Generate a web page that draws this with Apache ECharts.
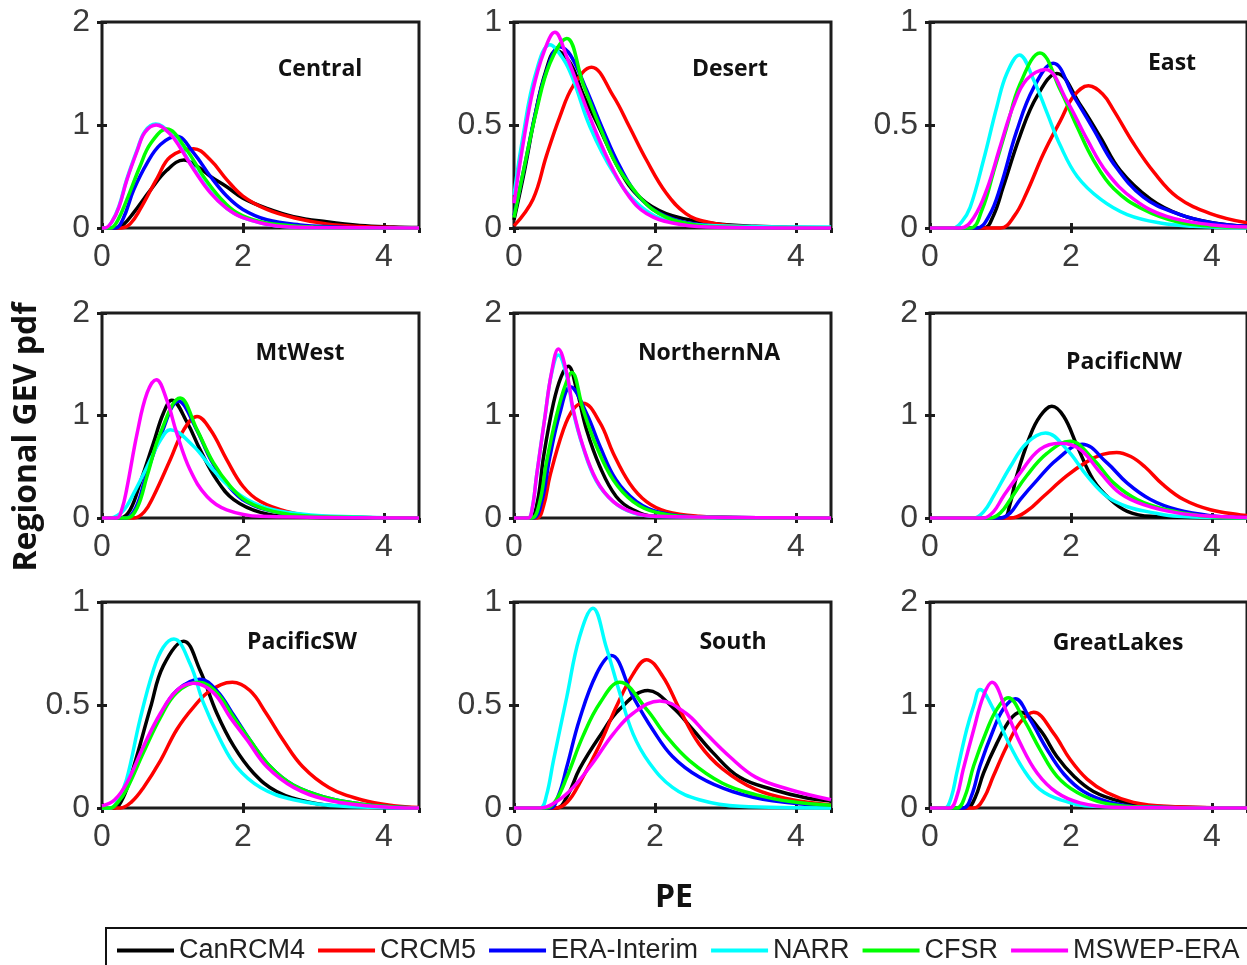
<!DOCTYPE html>
<html>
<head>
<meta charset="utf-8">
<title>Regional GEV pdf of PE</title>
<script src="https://cdn.jsdelivr.net/npm/echarts@6/dist/echarts.min.js"></script>
<style>
  html, body { margin: 0; padding: 0; background: #fff; }
  #chart { width: 1247px; height: 965px; }
</style>
</head>
<body>
<div id="chart"></div>
<script>
// ---- data ---------------------------------------------------------------
const REGIONS = ['Central', 'Desert', 'East', 'MtWest', 'NorthernNA', 'PacificNW', 'PacificSW', 'South', 'GreatLakes'];
const MODELS = ['CanRCM4', 'CRCM5', 'ERA-Interim', 'NARR', 'CFSR', 'MSWEP-ERA'];
const Y_MAX = [2, 1, 1, 2, 2, 2, 1, 1, 2];
const X_MIN = 0, X_MAX = 4.5, X_STEP = 2;

// each region: one [PE, pdf] curve per model, in MODELS order
const central = [
  [[0,0],[0.2,0],[0.3,0.03],[0.45,0.15],[0.69,0.37],[0.92,0.56],[1.16,0.66],[1.35,0.6],[1.54,0.5],[1.77,0.4],[2.0,0.29],[2.34,0.19],[2.72,0.11],[3.19,0.06],[3.66,0.025],[4.14,0.01],[4.5,0.004]],
  [[0,0],[0.28,0],[0.4,0.04],[0.54,0.18],[0.78,0.48],[0.97,0.69],[1.3,0.77],[1.54,0.66],[1.77,0.47],[2.0,0.31],[2.34,0.18],[2.72,0.1],[3.19,0.04],[3.66,0.015],[4.14,0.005],[4.5,0.002]],
  [[0,0],[0.19,0],[0.3,0.09],[0.45,0.37],[0.64,0.63],[0.83,0.81],[1.06,0.89],[1.3,0.73],[1.54,0.5],[1.77,0.31],[2.0,0.18],[2.34,0.08],[2.81,0.03],[3.3,0.01],[3.66,0.003],[4.5,0]],
  [[0,0],[0.05,0],[0.14,0.06],[0.24,0.21],[0.35,0.47],[0.5,0.76],[0.61,0.94],[0.76,1.01],[0.97,0.92],[1.11,0.79],[1.3,0.58],[1.54,0.35],[1.77,0.19],[2.0,0.1],[2.48,0.02],[3.0,0.005],[4.5,0]],
  [[0,0],[0.12,0],[0.22,0.07],[0.35,0.27],[0.54,0.6],[0.69,0.82],[0.92,0.96],[1.2,0.76],[1.44,0.5],[1.68,0.29],[1.91,0.15],[2.25,0.06],[2.72,0.02],[3.4,0.003],[4.5,0]],
  [[0,0],[0.04,0],[0.14,0.06],[0.24,0.2],[0.35,0.46],[0.5,0.75],[0.61,0.93],[0.77,1.0],[0.97,0.91],[1.11,0.78],[1.3,0.57],[1.54,0.34],[1.77,0.19],[2.0,0.1],[2.48,0.02],[3.0,0.005],[4.5,0]]
];
const desert = [
  [[0,0.04],[0.15,0.28],[0.3,0.55],[0.45,0.76],[0.6,0.86],[0.8,0.8],[0.98,0.65],[1.22,0.48],[1.5,0.28],[1.78,0.15],[2.16,0.07],[2.73,0.027],[3.43,0.008],[4.5,0.001]],
  [[0,0.01],[0.27,0.14],[0.46,0.35],[0.65,0.54],[0.84,0.69],[1.1,0.78],[1.41,0.64],[1.64,0.49],[1.88,0.33],[2.16,0.17],[2.44,0.07],[2.73,0.03],[3.2,0.008],[4.5,0]],
  [[0,0.06],[0.15,0.3],[0.3,0.55],[0.45,0.75],[0.65,0.88],[0.8,0.84],[1.03,0.67],[1.26,0.48],[1.5,0.3],[1.78,0.15],[2.16,0.056],[2.73,0.013],[3.5,0.002],[4.5,0]],
  [[0,0.16],[0.13,0.45],[0.3,0.74],[0.51,0.89],[0.7,0.82],[0.84,0.72],[1.08,0.49],[1.41,0.27],[1.78,0.11],[2.25,0.03],[3.0,0.01],[4.5,0.005]],
  [[0,0.05],[0.13,0.27],[0.32,0.57],[0.51,0.8],[0.75,0.92],[0.98,0.7],[1.22,0.49],[1.45,0.31],[1.69,0.19],[1.97,0.09],[2.35,0.03],[2.96,0.005],[4.5,0]],
  [[0,0.12],[0.13,0.41],[0.27,0.67],[0.42,0.85],[0.58,0.95],[0.75,0.83],[0.93,0.67],[1.17,0.46],[1.41,0.28],[1.64,0.15],[1.88,0.07],[2.25,0.024],[2.73,0.005],[4.5,0]]
];
const east = [
  [[0,0],[0.76,0],[0.9,0.06],[1.04,0.2],[1.28,0.45],[1.52,0.64],[1.8,0.75],[2.13,0.6],[2.42,0.44],[2.7,0.28],[3.13,0.14],[3.55,0.065],[4.03,0.024],[4.5,0.008]],
  [[0,0],[1.0,0],[1.2,0.06],[1.37,0.17],[1.61,0.36],[1.85,0.52],[2.04,0.64],[2.25,0.69],[2.45,0.65],[2.61,0.57],[2.89,0.41],[3.18,0.27],[3.51,0.15],[3.98,0.07],[4.5,0.025]],
  [[0,0],[0.66,0],[0.84,0.06],[1.0,0.2],[1.23,0.47],[1.47,0.68],[1.75,0.8],[2.04,0.64],[2.32,0.48],[2.61,0.31],[3.03,0.15],[3.51,0.07],[3.98,0.027],[4.5,0.008]],
  [[0,0],[0.33,0],[0.45,0.03],[0.57,0.1],[0.76,0.33],[0.95,0.59],[1.09,0.75],[1.27,0.84],[1.47,0.72],[1.66,0.56],[1.85,0.4],[2.09,0.25],[2.42,0.14],[2.8,0.065],[3.27,0.024],[3.74,0.008],[4.5,0]],
  [[0,0],[0.57,0],[0.74,0.09],[0.9,0.27],[1.09,0.49],[1.28,0.7],[1.56,0.85],[1.85,0.67],[2.09,0.49],[2.32,0.33],[2.61,0.19],[3.03,0.09],[3.51,0.03],[3.98,0.01],[4.5,0.003]],
  [[0,0],[0.43,0],[0.62,0.05],[0.81,0.19],[1.0,0.4],[1.18,0.59],[1.37,0.72],[1.64,0.77],[1.94,0.62],[2.23,0.43],[2.51,0.27],[2.89,0.14],[3.36,0.056],[3.98,0.016],[4.5,0.005]]
];
const mtWest = [
  [[0,0],[0.26,0],[0.4,0.08],[0.54,0.34],[0.73,0.73],[0.87,1.02],[0.99,1.15],[1.21,0.93],[1.39,0.67],[1.63,0.37],[1.87,0.18],[2.25,0.055],[2.72,0.01],[4.5,0]],
  [[0,0],[0.45,0],[0.6,0.06],[0.73,0.21],[0.97,0.57],[1.16,0.86],[1.35,0.99],[1.54,0.86],[1.77,0.57],[2.0,0.31],[2.25,0.16],[2.62,0.065],[3.1,0.016],[4.5,0]],
  [[0,0],[0.33,0],[0.48,0.1],[0.62,0.4],[0.83,0.8],[1.09,1.14],[1.33,0.88],[1.56,0.55],[1.8,0.31],[2.04,0.16],[2.43,0.065],[2.96,0.016],[4.5,0]],
  [[0,0],[0.12,0],[0.3,0.07],[0.45,0.24],[0.64,0.5],[0.83,0.76],[0.97,0.86],[1.3,0.7],[1.54,0.5],[1.77,0.33],[2.06,0.18],[2.43,0.08],[2.96,0.03],[3.66,0.01],[4.09,0.002],[4.5,0]],
  [[0,0],[0.35,0],[0.5,0.1],[0.64,0.41],[0.83,0.83],[1.11,1.17],[1.35,0.86],[1.58,0.54],[1.82,0.31],[2.06,0.16],[2.43,0.065],[2.96,0.016],[4.5,0]],
  [[0,0],[0.21,0],[0.28,0.08],[0.35,0.28],[0.5,0.83],[0.64,1.22],[0.77,1.35],[0.92,1.15],[1.06,0.83],[1.25,0.47],[1.49,0.21],[1.77,0.08],[2.25,0.016],[4.5,0]]
];
const northernNA = [
  [[0,0],[0.23,0],[0.33,0.15],[0.42,0.6],[0.56,1.12],[0.67,1.38],[0.77,1.48],[0.89,1.25],[1.03,0.86],[1.22,0.5],[1.45,0.21],[1.69,0.08],[2.02,0.016],[4.5,0]],
  [[0,0],[0.32,0],[0.42,0.12],[0.51,0.41],[0.7,0.86],[0.84,1.06],[0.98,1.12],[1.22,0.93],[1.41,0.63],[1.64,0.34],[1.88,0.16],[2.16,0.065],[2.63,0.016],[3.2,0.003],[4.5,0]],
  [[0,0],[0.27,0],[0.39,0.15],[0.51,0.6],[0.65,1.02],[0.8,1.28],[1.03,1.02],[1.22,0.7],[1.45,0.37],[1.74,0.16],[2.07,0.055],[2.63,0.01],[4.5,0]],
  [[0,0],[0.2,0],[0.26,0.1],[0.32,0.41],[0.44,0.99],[0.53,1.4],[0.63,1.59],[0.75,1.38],[0.84,1.04],[0.98,0.69],[1.17,0.36],[1.41,0.16],[1.69,0.05],[2.02,0.015],[4.5,0]],
  [[0,0],[0.25,0],[0.36,0.14],[0.46,0.54],[0.6,0.99],[0.72,1.28],[0.82,1.42],[0.98,1.06],[1.17,0.7],[1.41,0.37],[1.69,0.16],[2.02,0.055],[2.63,0.01],[4.5,0]],
  [[0,0],[0.2,0],[0.26,0.1],[0.32,0.41],[0.44,0.99],[0.53,1.41],[0.63,1.65],[0.75,1.41],[0.84,1.06],[0.98,0.7],[1.17,0.37],[1.41,0.16],[1.69,0.055],[2.02,0.016],[4.5,0]]
];
const pacificNW = [
  [[0,0],[1.04,0],[1.13,0.12],[1.23,0.41],[1.42,0.8],[1.56,0.99],[1.73,1.09],[1.9,0.99],[2.09,0.7],[2.32,0.37],[2.56,0.18],[2.8,0.065],[3.13,0.016],[4.5,0]],
  [[0,0],[1.14,0],[1.38,0.07],[1.61,0.21],[1.94,0.41],[2.23,0.55],[2.45,0.62],[2.65,0.64],[2.85,0.6],[3.05,0.5],[3.3,0.33],[3.6,0.18],[3.98,0.08],[4.41,0.03],[4.5,0.025]],
  [[0,0],[1.0,0],[1.14,0.05],[1.28,0.18],[1.52,0.37],[1.8,0.57],[2.16,0.72],[2.51,0.54],[2.8,0.34],[3.13,0.18],[3.51,0.08],[3.98,0.023],[4.5,0.004]],
  [[0,0],[0.62,0],[0.76,0.06],[0.9,0.21],[1.14,0.5],[1.37,0.73],[1.64,0.83],[1.94,0.67],[2.23,0.41],[2.51,0.21],[2.8,0.11],[3.18,0.05],[3.51,0.016],[4.5,0]],
  [[0,0],[0.85,0],[1.0,0.05],[1.14,0.18],[1.37,0.41],[1.66,0.63],[1.99,0.75],[2.32,0.57],[2.61,0.34],[2.94,0.18],[3.36,0.08],[3.84,0.023],[4.5,0.002]],
  [[0,0],[0.76,0],[0.9,0.06],[1.04,0.21],[1.28,0.44],[1.56,0.67],[1.85,0.73],[2.13,0.67],[2.42,0.44],[2.7,0.24],[3.03,0.13],[3.51,0.05],[4.03,0.016],[4.5,0.005]]
];
const pacificSW = [
  [[0,0],[0.17,0],[0.3,0.05],[0.45,0.2],[0.69,0.49],[0.87,0.69],[1.16,0.81],[1.39,0.67],[1.63,0.46],[1.87,0.3],[2.15,0.17],[2.48,0.08],[2.96,0.027],[3.43,0.008],[4.5,0]],
  [[0,0],[0.26,0],[0.42,0.03],[0.59,0.1],[0.83,0.23],[1.06,0.38],[1.3,0.49],[1.54,0.57],[1.85,0.61],[2.1,0.57],[2.33,0.46],[2.57,0.33],[2.85,0.2],[3.22,0.1],[3.68,0.04],[4.14,0.011],[4.5,0.003]],
  [[0,0],[0.12,0],[0.23,0.03],[0.35,0.1],[0.59,0.28],[0.83,0.45],[1.06,0.57],[1.39,0.625],[1.63,0.57],[1.87,0.45],[2.1,0.33],[2.39,0.2],[2.72,0.11],[3.19,0.05],[3.66,0.02],[4.14,0.005],[4.5,0]],
  [[0,0],[0.12,0],[0.23,0.04],[0.35,0.14],[0.54,0.43],[0.73,0.67],[0.87,0.78],[1.02,0.82],[1.25,0.7],[1.44,0.51],[1.68,0.33],[1.91,0.2],[2.25,0.1],[2.72,0.04],[3.43,0.008],[4.5,0]],
  [[0,0],[0.12,0],[0.23,0.03],[0.35,0.09],[0.59,0.27],[0.83,0.44],[1.06,0.56],[1.37,0.61],[1.63,0.56],[1.87,0.44],[2.1,0.33],[2.39,0.2],[2.72,0.11],[3.19,0.05],[3.66,0.02],[4.14,0.005],[4.5,0]],
  [[0,0.01],[0.18,0.04],[0.35,0.12],[0.59,0.3],[0.83,0.46],[1.06,0.57],[1.3,0.605],[1.58,0.56],[1.82,0.44],[2.06,0.33],[2.34,0.2],[2.72,0.1],[3.19,0.04],[3.66,0.015],[4.14,0.003],[4.5,0]]
];
const south = [
  [[0,0],[0.6,0],[0.76,0.06],[0.93,0.19],[1.22,0.35],[1.5,0.48],[1.9,0.57],[2.25,0.49],[2.54,0.38],[2.82,0.27],[3.2,0.15],[3.67,0.09],[4.14,0.05],[4.5,0.034]],
  [[0,0],[0.6,0],[0.76,0.03],[0.93,0.12],[1.22,0.31],[1.45,0.49],[1.69,0.65],[1.88,0.72],[2.11,0.64],[2.35,0.48],[2.63,0.31],[2.96,0.19],[3.43,0.09],[3.95,0.04],[4.5,0.015]],
  [[0,0],[0.51,0],[0.63,0.06],[0.75,0.2],[0.93,0.43],[1.17,0.65],[1.38,0.74],[1.69,0.54],[1.97,0.38],[2.25,0.25],[2.63,0.15],[3.1,0.08],[3.67,0.035],[4.5,0.01]],
  [[0,0],[0.37,0],[0.46,0.06],[0.56,0.23],[0.75,0.54],[0.93,0.83],[1.12,0.97],[1.31,0.78],[1.5,0.56],[1.69,0.36],[1.92,0.22],[2.25,0.1],[2.63,0.04],[3.2,0.008],[4.5,0]],
  [[0,0],[0.46,0],[0.6,0.04],[0.75,0.15],[0.98,0.35],[1.22,0.51],[1.5,0.61],[1.88,0.48],[2.16,0.35],[2.49,0.23],[2.96,0.12],[3.43,0.065],[3.95,0.03],[4.5,0.013]],
  [[0,0],[0.37,0],[0.6,0.03],[0.84,0.1],[1.12,0.22],[1.41,0.36],[1.69,0.46],[2.07,0.52],[2.44,0.46],[2.73,0.36],[3.06,0.25],[3.43,0.15],[3.91,0.09],[4.5,0.04]]
];
const greatLakes = [
  [[0,0],[0.52,0],[0.64,0.1],[0.76,0.34],[0.95,0.63],[1.14,0.86],[1.28,0.93],[1.56,0.76],[1.8,0.5],[2.04,0.31],[2.32,0.16],[2.7,0.065],[3.18,0.016],[4.5,0]],
  [[0,0],[0.62,0],[0.76,0.09],[0.9,0.31],[1.09,0.6],[1.28,0.83],[1.47,0.93],[1.75,0.73],[1.99,0.47],[2.23,0.28],[2.51,0.15],[2.89,0.055],[3.36,0.016],[4.5,0]],
  [[0,0],[0.47,0],[0.59,0.12],[0.71,0.41],[0.9,0.76],[1.04,0.96],[1.21,1.06],[1.42,0.86],[1.66,0.57],[1.9,0.33],[2.18,0.16],[2.56,0.055],[3.03,0.01],[4.5,0]],
  [[0,0],[0.21,0],[0.3,0.1],[0.38,0.34],[0.52,0.76],[0.62,0.99],[0.71,1.15],[0.9,0.96],[1.09,0.67],[1.33,0.37],[1.56,0.18],[1.85,0.08],[2.32,0.016],[4.5,0]],
  [[0,0],[0.38,0],[0.5,0.12],[0.62,0.41],[0.81,0.76],[0.95,0.96],[1.11,1.07],[1.33,0.86],[1.56,0.57],[1.8,0.31],[2.09,0.15],[2.46,0.05],[3.03,0.008],[4.5,0]],
  [[0,0],[0.28,0],[0.38,0.11],[0.47,0.37],[0.62,0.76],[0.76,1.09],[0.88,1.22],[1.09,0.93],[1.28,0.63],[1.52,0.34],[1.8,0.15],[2.13,0.05],[2.61,0.008],[4.5,0]]
];
const REGION_CURVES = [central, desert, east, mtWest, northernNA, pacificNW, pacificSW, south, greatLakes];

// ---- layout & style ---------------------------------------------------------
const MODEL_COLORS = ['#000000', '#ff0000', '#0000ff', '#00ffff', '#00ff00', '#ff00ff'];
const COL_LEFT = [102, 514, 930];
const COL_WIDTH = 317;
const ROW_TOP = [22, 313, 602];
const ROW_HEIGHT = [206, 205, 206];
// panel name anchor (centre) in page pixels
const NAME_POS = [[320, 69], [730, 69], [1172, 63], [300, 353], [709, 353], [1124, 362], [302, 642], [733, 642], [1118, 643]];

const TICK_FONT = { fontFamily: 'Liberation Sans, Arial, sans-serif', fontSize: 32, color: '#3a3a3a' };
const BOLD_FONT = 'Open Sans, sans-serif';

const grids = [], xAxes = [], yAxes = [], series = [], graphics = [];

REGIONS.forEach((region, i) => {
  const col = i % 3, row = Math.floor(i / 3);
  grids.push({
    left: COL_LEFT[col], top: ROW_TOP[row], width: COL_WIDTH, height: ROW_HEIGHT[row],
    show: true, borderColor: '#1c1c1c', borderWidth: 3, backgroundColor: '#fff'
  });
  const tick = { show: true, inside: true, length: 5, lineStyle: { color: '#1c1c1c', width: 3 } };
  // bottom and top x axes
  xAxes.push({
    type: 'value', gridIndex: i, min: X_MIN, max: X_MAX, interval: X_STEP, position: 'bottom',
    axisLine: { show: false }, axisTick: tick, splitLine: { show: false },
    axisLabel: Object.assign({ margin: 13, showMaxLabel: false }, TICK_FONT)
  });
  xAxes.push({
    type: 'value', gridIndex: i, min: X_MIN, max: X_MAX, interval: X_STEP, position: 'top',
    axisLine: { show: false }, axisTick: tick, splitLine: { show: false }, axisLabel: { show: false }
  });
  // left and right y axes
  const ymax = Y_MAX[i];
  yAxes.push({
    type: 'value', gridIndex: i, min: 0, max: ymax, interval: ymax / 2, position: 'left',
    axisLine: { show: false }, axisTick: tick, splitLine: { show: false },
    axisLabel: Object.assign({ margin: 12 }, TICK_FONT)
  });
  yAxes.push({
    type: 'value', gridIndex: i, min: 0, max: ymax, interval: ymax / 2, position: 'right',
    axisLine: { show: false }, axisTick: tick, splitLine: { show: false }, axisLabel: { show: false }
  });

  REGION_CURVES[i].forEach((curve, m) => {
    series.push({
      type: 'line', name: MODELS[m], data: curve,
      xAxisIndex: 2 * i, yAxisIndex: 2 * i,
      smooth: 0.4, showSymbol: false, symbol: 'none', clip: false,
      lineStyle: { color: MODEL_COLORS[m], width: 3.5 },
      itemStyle: { color: MODEL_COLORS[m] },
      emphasis: { disabled: true }, z: 3 + m
    });
  });

  graphics.push({
    type: 'text', x: NAME_POS[i][0], y: NAME_POS[i][1], z: 100,
    style: { text: region, font: 'bold 23px ' + BOLD_FONT, fill: '#111', textAlign: 'center', textVerticalAlign: 'middle' }
  });
});

graphics.push({
  type: 'text', x: 27, y: 437, rotation: Math.PI / 2, z: 100,
  style: { text: 'Regional GEV pdf', font: 'bold 32px ' + BOLD_FONT, fill: '#111', textAlign: 'center', textVerticalAlign: 'middle' }
});
graphics.push({
  type: 'text', x: 674, y: 898, z: 100,
  style: { text: 'PE', font: 'bold 32px ' + BOLD_FONT, fill: '#111', textAlign: 'center', textVerticalAlign: 'middle' }
});

const chart = echarts.init(document.getElementById('chart'), null, { renderer: 'canvas' });
chart.setOption({
  animation: false,
  backgroundColor: '#ffffff',
  grid: grids,
  xAxis: xAxes,
  yAxis: yAxes,
  series: series,
  graphic: graphics,
  legend: {
    data: MODELS,
    left: 106, top: 928, width: 1400,
    orient: 'horizontal',
    icon: 'rect', itemWidth: 57, itemHeight: 4, itemGap: 13,
    padding: [9, 10, 9, 11],
    borderColor: '#111', borderWidth: 2, backgroundColor: '#fff',
    selectedMode: false,
    textStyle: { fontFamily: 'Liberation Sans, Arial, sans-serif', fontSize: 27, color: '#222', padding: [0, 0, 0, 0] }
  }
});
</script>
</body>
</html>
